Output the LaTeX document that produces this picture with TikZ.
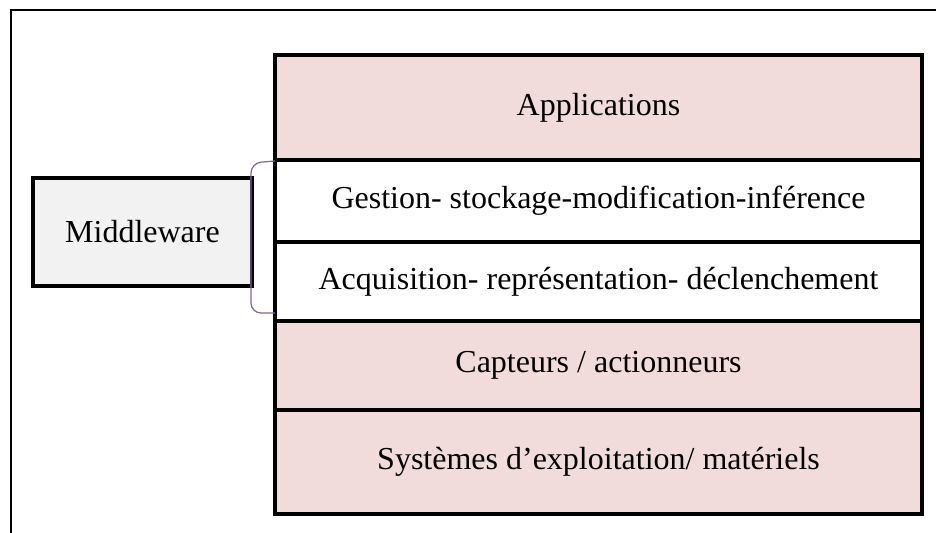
\documentclass[tikz,border=0pt]{standalone}
\usepackage{fontspec}
\setmainfont{Liberation Serif}
\usepackage{tikz}
\usetikzlibrary{positioning}
\definecolor{layerpink}{RGB}{242,220,219}
\definecolor{mwgray}{RGB}{242,242,242}
\definecolor{bracepurple}{RGB}{128,100,162}
\tikzstyle{layer} = [draw, line width=2pt, fill=layerpink, minimum width=323.5pt, inner sep=0pt, outer sep=0pt, font=\fontsize{16}{19}\selectfont]
\tikzstyle{mwlayer} = [layer, fill=white]
\tikzstyle{brace} = [bracepurple, line width=0.6pt, rounded corners=5pt]

\begin{document}
\begin{tikzpicture}[x=0.5pt, y=-0.5pt]
\useasboundingbox (0,0) rectangle (936,533);
% Frame
\draw[line width=0.8pt] (11,533) -- (11,10) -- (936,10);
% Layer stack
\node[layer, minimum height=52.5pt, anchor=north west] (apps) at (275,55) {Applications};
\node[mwlayer, minimum height=41pt, below=0pt of apps] (gest) {Gestion- stockage-modification-inférence};
\node[mwlayer, minimum height=39.5pt, below=0pt of gest] (acq) {Acquisition- représentation- déclenchement};
\node[layer, minimum height=44.5pt, below=0pt of acq] (capt) {Capteurs / actionneurs};
\node[layer, minimum height=52pt, below=0pt of capt] (sys) {Systèmes d’exploitation/ matériels};
% Middleware
\node[layer, fill=mwgray, minimum width=109.5pt, minimum height=54pt] (mw) at (142.5,232) {Middleware};
\draw[brace] ([yshift=-0.5pt]gest.north west) -- ++(-24,2) -- ([xshift=-12pt, yshift=4pt]acq.south west) -- ([yshift=4pt]acq.south west);
\end{tikzpicture}
\end{document}
